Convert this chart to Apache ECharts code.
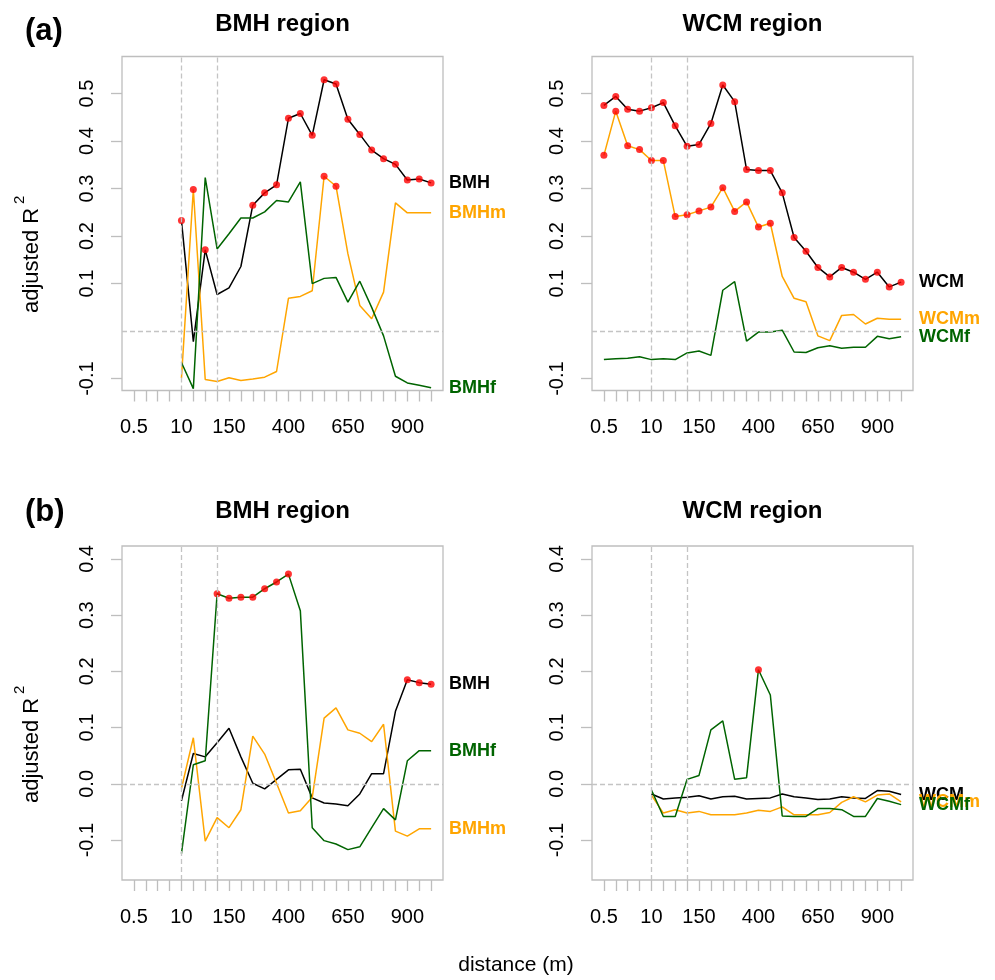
<!DOCTYPE html>
<html>
<head>
<meta charset="utf-8">
<script src="https://cdn.jsdelivr.net/npm/echarts@6/dist/echarts.min.js"></script>
<style>
  html, body { margin: 0; padding: 0; background: #fff; }
  #main { width: 995px; height: 980px; }
</style>
</head>
<body>
<div id="main"></div>
<script>
// distance classes (m), one per x tick
var distances = ['0.5', '1', '2', '5', '10', '25', '50', '100', '150', '200', '250', '300', '350',
  '400', '450', '500', '550', '600', '650', '700', '750', '800', '850', '900', '950', '1000'];
var labelIdx = [0, 4, 8, 13, 18, 23];   // ticks that carry a label
var refIdx = [4, 7];                     // dashed vertical lines

var n = null;
// (a) BMH region
var aBMH  = [n, n, n, n, 0.233, -0.022, 0.171, 0.077, 0.091, 0.136, 0.265, 0.291, 0.308, 0.448, 0.458, 0.412, 0.529, 0.520, 0.446, 0.414, 0.381, 0.363, 0.351, 0.318, 0.320, 0.312];
var aBMHm = [n, n, n, n, -0.099, 0.298, -0.102, -0.106, -0.098, -0.104, -0.101, -0.097, -0.085, 0.069, 0.073, 0.085, 0.326, 0.305, 0.163, 0.054, 0.026, 0.082, 0.270, 0.249, 0.249, 0.249];
var aBMHf = [n, n, n, n, -0.066, -0.121, 0.323, 0.173, 0.205, 0.238, 0.238, 0.251, 0.275, 0.272, 0.314, 0.100, 0.111, 0.113, 0.061, 0.105, 0.050, -0.010, -0.095, -0.109, -0.114, -0.119];
var aBMHsig  = [4, 6, 10, 11, 12, 13, 14, 15, 16, 17, 18, 19, 20, 21, 22, 23, 24, 25];
var aBMHmsig = [5, 16, 17];
// (a) WCM region
var aWCM  = [0.475, 0.494, 0.467, 0.463, 0.470, 0.481, 0.432, 0.389, 0.393, 0.437, 0.518, 0.483, 0.340, 0.338, 0.338, 0.291, 0.197, 0.168, 0.134, 0.114, 0.134, 0.124, 0.109, 0.124, 0.093, 0.103];
var aWCMm = [0.370, 0.463, 0.390, 0.382, 0.359, 0.359, 0.241, 0.245, 0.253, 0.261, 0.302, 0.252, 0.272, 0.219, 0.227, 0.115, 0.069, 0.062, -0.010, -0.020, 0.033, 0.035, 0.015, 0.027, 0.025, 0.025];
var aWCMf = [-0.060, -0.058, -0.057, -0.054, -0.060, -0.058, -0.060, -0.046, -0.042, -0.051, 0.086, 0.104, -0.021, -0.002, -0.002, 0.002, -0.044, -0.045, -0.035, -0.031, -0.036, -0.034, -0.034, -0.011, -0.016, -0.012];
var aWCMsig  = [0, 1, 2, 3, 4, 5, 6, 7, 8, 9, 10, 11, 12, 13, 14, 15, 16, 17, 18, 19, 20, 21, 22, 23, 24, 25];
var aWCMmsig = [0, 1, 2, 3, 4, 5, 6, 7, 8, 9, 10, 11, 12, 13, 14];
// (b) BMH region
var bBMH  = [n, n, n, n, -0.030, 0.054, 0.048, 0.073, 0.099, 0.048, 0.001, -0.009, 0.008, 0.025, 0.026, -0.025, -0.034, -0.036, -0.039, -0.018, 0.018, 0.018, 0.129, 0.185, 0.180, 0.177];
var bBMHm = [n, n, n, n, -0.008, 0.082, -0.102, -0.060, -0.078, -0.046, 0.085, 0.053, 0.001, -0.052, -0.048, -0.024, 0.117, 0.135, 0.096, 0.090, 0.075, 0.106, -0.084, -0.093, -0.080, -0.080];
var bBMHf = [n, n, n, n, -0.124, 0.034, 0.041, 0.338, 0.330, 0.332, 0.332, 0.347, 0.359, 0.373, 0.308, -0.078, -0.101, -0.107, -0.117, -0.112, -0.078, -0.044, -0.064, 0.041, 0.059, 0.059];
var bBMHsig  = [23, 24, 25];
var bBMHfsig = [7, 8, 9, 10, 11, 12, 13];
// (b) WCM region
var bWCM  = [n, n, n, n, -0.018, -0.027, -0.025, -0.024, -0.021, -0.027, -0.023, -0.022, -0.027, -0.026, -0.025, -0.018, -0.023, -0.025, -0.028, -0.027, -0.023, -0.025, -0.026, -0.012, -0.013, -0.019];
var bWCMm = [n, n, n, n, -0.020, -0.052, -0.046, -0.052, -0.049, -0.055, -0.055, -0.055, -0.052, -0.047, -0.049, -0.041, -0.055, -0.055, -0.055, -0.051, -0.033, -0.023, -0.032, -0.020, -0.018, -0.032];
var bWCMf = [n, n, n, n, -0.011, -0.058, -0.058, 0.008, 0.015, 0.096, 0.112, 0.008, 0.011, 0.203, 0.158, -0.057, -0.058, -0.058, -0.044, -0.044, -0.046, -0.058, -0.058, -0.026, -0.031, -0.037];
var bWCMfsig = [13];

var yTicksA = [-0.1, 0.1, 0.2, 0.3, 0.4, 0.5];
var yTicksB = [-0.1, 0.0, 0.1, 0.2, 0.3, 0.4];

var BLACK = '#000000', ORANGE = '#FFA500', GREEN = '#006400', GRAY = '#bebebe';
var FONT = 'Liberation Sans, Arial, sans-serif';

var panels = [
  { left: 122, top: 56.5, ymin: -0.125, ymax: 0.578, yticks: yTicksA, lines: [
    { name: 'BMH', color: BLACK, data: aBMH, sig: aBMHsig },
    { name: 'BMHm', color: ORANGE, data: aBMHm, sig: aBMHmsig },
    { name: 'BMHf', color: GREEN, data: aBMHf, sig: [] } ] },
  { left: 592, top: 56.5, ymin: -0.125, ymax: 0.578, yticks: yTicksA, lines: [
    { name: 'WCM', color: BLACK, data: aWCM, sig: aWCMsig },
    { name: 'WCMm', color: ORANGE, data: aWCMm, sig: aWCMmsig },
    { name: 'WCMf', color: GREEN, data: aWCMf, sig: [] } ] },
  { left: 122, top: 546, ymin: -0.171, ymax: 0.423, yticks: yTicksB, lines: [
    { name: 'BMH', color: BLACK, data: bBMH, sig: bBMHsig },
    { name: 'BMHm', color: ORANGE, data: bBMHm, sig: [] },
    { name: 'BMHf', color: GREEN, data: bBMHf, sig: bBMHfsig } ] },
  { left: 592, top: 546, ymin: -0.171, ymax: 0.423, yticks: yTicksB, lines: [
    { name: 'WCM', color: BLACK, data: bWCM, sig: [] },
    { name: 'WCMm', color: ORANGE, data: bWCMm, sig: [] },
    { name: 'WCMf', color: GREEN, data: bWCMf, sig: bWCMfsig } ] }
];

function pairs(arr) {
  return arr.map(function (v, i) { return [i, v]; });
}

var grids = [], xAxes = [], yAxes = [], series = [];
var tickIdx = distances.map(function (d, i) { return i; });

panels.forEach(function (p, k) {
  grids.push({ left: p.left, top: p.top, width: 321, height: 334, show: true,
    borderColor: GRAY, borderWidth: 1.3, backgroundColor: 'transparent' });
  xAxes.push({ type: 'value', gridIndex: k, min: -1, max: 26, position: 'bottom',
    axisLine: { show: false, onZero: false }, splitLine: { show: false },
    axisTick: { show: true, length: 11, customValues: tickIdx, lineStyle: { color: GRAY, width: 1.3 } },
    axisLabel: { customValues: labelIdx, margin: 27, fontSize: 20, color: '#000', fontFamily: FONT,
      formatter: function (v) { return distances[v]; } } });
  yAxes.push({ type: 'value', gridIndex: k, min: p.ymin, max: p.ymax, position: 'left',
    axisLine: { show: false, onZero: false }, splitLine: { show: false },
    axisTick: { show: true, length: 11, customValues: p.yticks, lineStyle: { color: GRAY, width: 1.3 } },
    axisLabel: { customValues: p.yticks, rotate: 90, margin: 25, fontSize: 20, color: '#000', fontFamily: FONT,
      formatter: function (v) { return v.toFixed(1); } } });

  // dashed reference lines
  series.push({ type: 'line', xAxisIndex: k, yAxisIndex: k, data: [], silent: true, z: 1,
    markLine: { silent: true, symbol: 'none', label: { show: false },
      lineStyle: { color: '#c4c4c4', type: [5, 3], width: 1.3 },
      data: refIdx.map(function (i) { return { xAxis: i }; }).concat([{ yAxis: 0 }]) } });

  p.lines.forEach(function (s) {
    series.push({ type: 'line', name: s.name, xAxisIndex: k, yAxisIndex: k, data: pairs(s.data),
      showSymbol: false, symbol: 'none', z: 2,
      lineStyle: { color: s.color, width: 1.5 },
      endLabel: { show: true, formatter: s.name, color: s.color, fontWeight: 'bold',
        fontSize: 18, fontFamily: FONT, distance: 18 } });
  });
  p.lines.forEach(function (s) {
    if (!s.sig.length) return;
    series.push({ type: 'scatter', xAxisIndex: k, yAxisIndex: k, z: 3,
      symbol: 'circle', symbolSize: 7, itemStyle: { color: '#ff0000' },
      data: s.sig.map(function (i) { return [i, s.data[i]]; }) });
  });
});

function yTitle(cy) {
  return { type: 'group', x: 31.5, y: cy, rotation: Math.PI / 2, children: [
    { type: 'text', x: 0, y: 0, style: { text: 'adjusted R', font: '22px ' + FONT, fill: '#000',
      align: 'left', verticalAlign: 'middle' } },
    { type: 'text', x: 109, y: -12, style: { text: '2', font: '15px ' + FONT, fill: '#000',
      align: 'left', verticalAlign: 'middle' } } ] };
}
function txt(x, y, s, font, align) {
  return { type: 'text', x: x, y: y, style: { text: s, font: font, fill: '#000',
    align: align || 'center', verticalAlign: 'middle' } };
}

var graphics = [
  txt(25, 31, '(a)', 'bold 31px ' + FONT, 'left'),
  txt(25, 512, '(b)', 'bold 31px ' + FONT, 'left'),
  txt(282.5, 24, 'BMH region', 'bold 24px ' + FONT),
  txt(752.5, 24, 'WCM region', 'bold 24px ' + FONT),
  txt(282.5, 511, 'BMH region', 'bold 24px ' + FONT),
  txt(752.5, 511, 'WCM region', 'bold 24px ' + FONT),
  txt(516, 965, 'distance (m)', '21px ' + FONT),
  yTitle(313),
  yTitle(803)
];

var myChart = echarts.init(document.getElementById('main'));
myChart.setOption({
  animation: false,
  textStyle: { fontFamily: FONT },
  grid: grids,
  xAxis: xAxes,
  yAxis: yAxes,
  series: series,
  graphic: graphics
});
</script>
</body>
</html>
